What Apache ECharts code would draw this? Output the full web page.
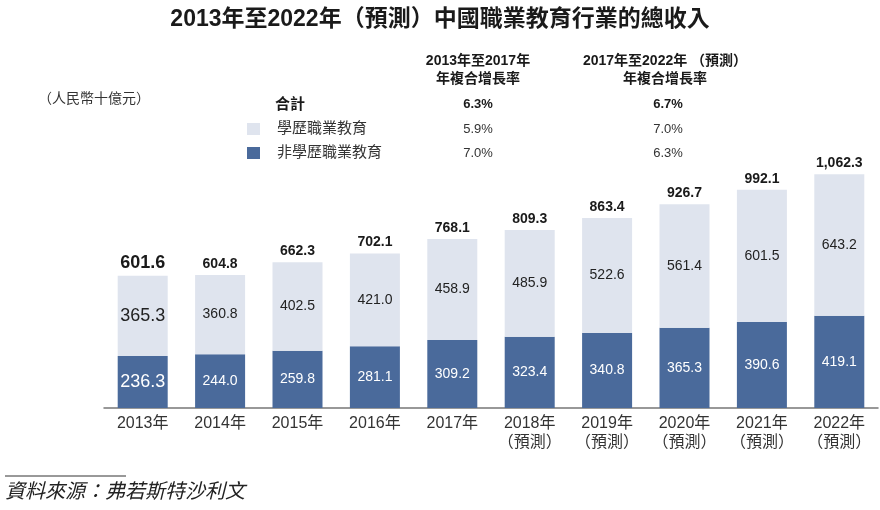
<!DOCTYPE html>
<html>
<head>
<meta charset="utf-8">
<script src="https://cdn.jsdelivr.net/npm/echarts@6/dist/echarts.min.js"></script>
<style>
html,body{margin:0;padding:0;background:#fff;}
#main{width:880px;height:510px;}
</style>
</head>
<body>
<div id="main"></div>
<script>
var years = ['2013年','2014年','2015年','2016年','2017年','2018年\n（預測）','2019年\n（預測）','2020年\n（預測）','2021年\n（預測）','2022年\n（預測）'];
var nonDegree = [236.3, 244.0, 259.8, 281.1, 309.2, 323.4, 340.8, 365.3, 390.6, 419.1];
var degree = [365.3, 360.8, 402.5, 421.0, 458.9, 485.9, 522.6, 561.4, 601.5, 643.2];
var totals = [601.6, 604.8, 662.3, 702.1, 768.1, 809.3, 863.4, 926.7, 992.1, 1062.3];
var seriesNames = ['學歷職業教育', '非學歷職業教育'];
var cagrHeaders = ['2013年至2017年\n年複合增長率', '2017年至2022年 （預測）\n年複合增長率'];
var cagrTotal = ['6.3%', '6.7%'];
var cagrDegree = ['5.9%', '7.0%'];
var cagrNonDegree = ['7.0%', '6.3%'];

var FONT = '"Liberation Sans", "Noto Sans CJK TC", sans-serif';
var LIGHT = '#dfe4ee';
var DARK = '#4a6a9b';

function fmt(v){
  var s = v.toFixed(1);
  var p = s.split('.');
  p[0] = p[0].replace(/\B(?=(\d{3})+(?!\d))/g, ',');
  return p.join('.');
}
// first bar's labels are printed larger in the original
function withBig(arr){
  return arr.map(function(v, i){
    return i === 0 ? {value: v, label: {fontSize: 18}} : v;
  });
}

var chart = echarts.init(document.getElementById('main'), null, {renderer:'canvas'});
var col1 = 478, col2 = 665;
var option = {
  backgroundColor: '#fff',
  animation: false,
  title: {
    text: '2013年至2022年（預測）中國職業教育行業的總收入',
    left: 'center', top: 3,
    textStyle: {fontFamily: FONT, fontSize: 23, fontWeight: 'bold', color: '#1a1a1a'}
  },
  grid: {left: 104, right: 2, top: 144, bottom: 102},
  xAxis: {
    type: 'category', data: years,
    axisLine: {lineStyle: {color: '#777', width: 1.5}},
    axisTick: {show: false},
    axisLabel: {fontFamily: FONT, fontSize: 16, color: '#333', lineHeight: 19, margin: 6, interval: 0}
  },
  yAxis: {type: 'value', min: 0, max: 1200, show: false, splitLine: {show: false}},
  series: [
    {
      name: seriesNames[1], type: 'bar', stack: 'a', data: withBig(nonDegree), barWidth: 50,
      itemStyle: {color: DARK},
      label: {show: true, position: 'inside', color: '#fff', fontFamily: FONT, fontSize: 14,
        formatter: function(p){return p.value.toFixed(1);}}
    },
    {
      name: seriesNames[0], type: 'bar', stack: 'a', data: withBig(degree), barWidth: 50,
      itemStyle: {color: LIGHT},
      label: {show: true, position: 'inside', color: '#222', fontFamily: FONT, fontSize: 14,
        formatter: function(p){return p.value.toFixed(1);}}
    },
    {
      name: 'total', type: 'bar', stack: 'a', data: withBig(totals.map(function(){return 0;})), barWidth: 50,
      itemStyle: {color: 'transparent'},
      label: {show: true, position: 'top', distance: 4, color: '#1a1a1a', fontFamily: FONT, fontSize: 14, fontWeight: 'bold',
        formatter: function(p){return fmt(totals[p.dataIndex]);}}
    }
  ],
  graphic: [
    {type:'text', x: col1, y: 52, style:{text: cagrHeaders[0], font:'bold 14px ' + FONT, fill:'#1a1a1a', textAlign:'center', lineHeight: 18}},
    {type:'text', x: col2, y: 52, style:{text: cagrHeaders[1], font:'bold 14px ' + FONT, fill:'#1a1a1a', textAlign:'center', lineHeight: 18}},
    {type:'text', x: 38, y: 92, style:{text:'（人民幣十億元）', font:'14px ' + FONT, fill:'#333'}},
    {type:'text', x: 275, y: 97, style:{text:'合計', font:'bold 15px ' + FONT, fill:'#1a1a1a'}},
    {type:'text', x: col1, y: 98, style:{text: cagrTotal[0], font:'bold 13px ' + FONT, fill:'#1a1a1a', textAlign:'center'}},
    {type:'text', x: col2 + 3, y: 98, style:{text: cagrTotal[1], font:'bold 13px ' + FONT, fill:'#1a1a1a', textAlign:'center'}},
    {type:'rect', shape:{x:247, y:123, width:13, height:12}, style:{fill: LIGHT}},
    {type:'text', x: 277, y: 121, style:{text: seriesNames[0], font:'15px ' + FONT, fill:'#333'}},
    {type:'text', x: col1, y: 123, style:{text: cagrDegree[0], font:'13px ' + FONT, fill:'#333', textAlign:'center'}},
    {type:'text', x: col2 + 3, y: 123, style:{text: cagrDegree[1], font:'13px ' + FONT, fill:'#333', textAlign:'center'}},
    {type:'rect', shape:{x:247, y:147, width:13, height:12}, style:{fill: DARK}},
    {type:'text', x: 277, y: 145, style:{text: seriesNames[1], font:'15px ' + FONT, fill:'#333'}},
    {type:'text', x: col1, y: 147, style:{text: cagrNonDegree[0], font:'13px ' + FONT, fill:'#333', textAlign:'center'}},
    {type:'text', x: col2 + 3, y: 147, style:{text: cagrNonDegree[1], font:'13px ' + FONT, fill:'#333', textAlign:'center'}},
    {type:'line', shape:{x1:5, y1:476, x2:126, y2:476}, style:{stroke:'#333', lineWidth:1}},
    {type:'text', x: 5, y: 482, style:{text:'資料來源：弗若斯特沙利文', font:'italic 20px ' + FONT, fill:'#222'}}
  ]
};
chart.setOption(option);
</script>
</body>
</html>
